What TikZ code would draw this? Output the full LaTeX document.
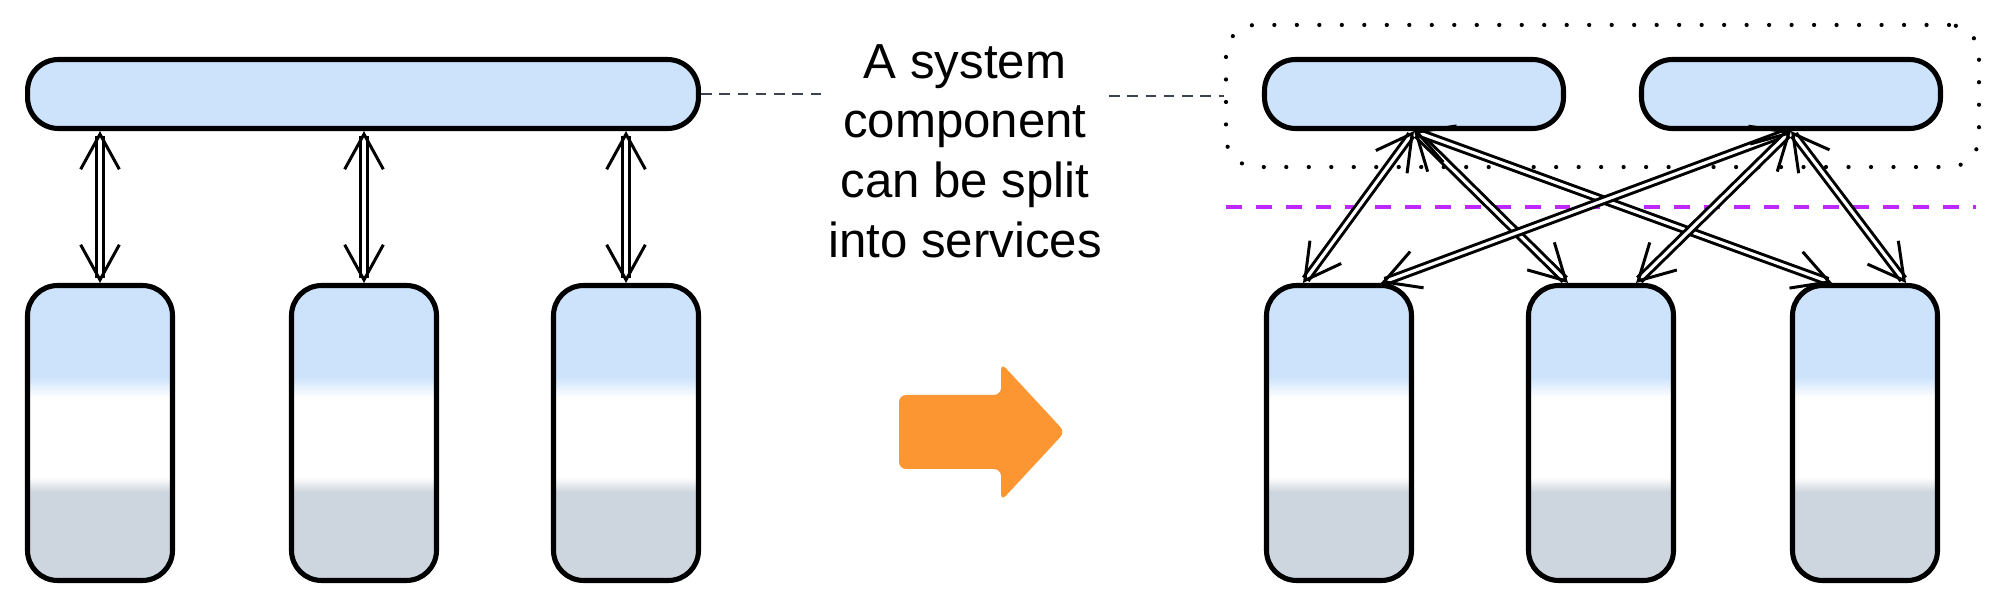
\documentclass[tikz,border=0pt]{standalone}
\usepackage{fontspec}
\setmainfont{Liberation Sans}
\usetikzlibrary{positioning,arrows.meta,fit}
\definecolor{tierblue}{RGB}{205,227,252}
\definecolor{tiergray}{RGB}{205,213,222}
\definecolor{notegray}{RGB}{60,68,80}
\definecolor{splitorange}{RGB}{251,150,50}
\definecolor{splitpurple}{RGB}{190,40,255}
\pgfdeclareverticalshading{tiershade}{100bp}{color(0bp)=(tiergray); color(40bp)=(tiergray); color(42.5bp)=(white); color(56bp)=(white); color(59.5bp)=(tierblue); color(100bp)=(tierblue)}

\begin{document}
\begin{tikzpicture}[x=0.02cm,y=-0.02cm,
    comp/.style={draw,line width=2.9pt,fill=tierblue,rounded corners=0.62cm,minimum height=1.38cm,inner sep=0pt},
    tier/.style={draw,line width=2.9pt,shading=tiershade,rounded corners=0.6cm,minimum width=2.9cm,minimum height=5.9cm,inner sep=0pt},
    link/.style={double,double distance=1.8pt,line width=1.7pt,{Straight Barb[length=20pt,width=22pt]}-{Straight Barb[length=20pt,width=22pt]}},
    note/.style={notegray,line width=1.1pt,dash pattern=on 6pt off 4.4pt}]
    \useasboundingbox (0,0) rectangle (1999,604);
    % before: one component
    \node[comp,minimum width=13.42cm] (bar) at (363,94) {};
    \node[tier] (b1) at (100,433) {};
    \node[tier] (b2) at (364,433) {};
    \node[tier] (b3) at (626,433) {};
    \draw[link] (b1.north |- bar.south) -- (b1.north);
    \draw[link] (b2.north |- bar.south) -- (b2.north);
    \draw[link] (b3.north |- bar.south) -- (b3.north);
    % caption
    \node[font=\fontsize{28}{34}\selectfont,align=center,inner sep=4pt] (cap) at (965,151) {A system\\component\\can be split\\into services};
    \fill[splitorange,rounded corners=4pt] (899,395) -- (1001,395) -- (1001,363) -- (1065,432) -- (1001,501) -- (1001,469) -- (899,469) -- cycle;
    % after: split into services
    \node[comp,minimum width=5.98cm] (t1) at (1414,94) {};
    \node[comp,minimum width=5.98cm] (t2) at (1791,94) {};
    \node[tier] (b4) at (1339,433) {};
    \node[tier] (b5) at (1601,433) {};
    \node[tier] (b6) at (1865,433) {};
    \node[fit=(t1)(t2),inner xsep=0.72cm,inner ysep=0.68cm,yshift=-0.04cm,rounded corners=0.6cm,draw,line width=2.4pt,dash pattern=on 0pt off 12.8pt,line cap=round] (svc) {};
    \coordinate (sepl) at (1226,207);
    \coordinate (sepr) at (1976,207);
    \draw[splitpurple,line width=2pt,dash pattern=on 9pt off 8pt] (sepl) -- (sepr);
    \draw[link] (t1.south) -- ([xshift=-0.72cm]b4.north);
    \draw[link] (t1.south) -- ([xshift=-0.66cm]b5.north);
    \draw[link] (t1.south) -- ([xshift=-0.66cm]b6.north);
    \draw[link] (t2.south) -- ([xshift=0.84cm]b4.north);
    \draw[link] (t2.south) -- ([xshift=0.7cm]b5.north);
    \draw[link] (t2.south) -- ([xshift=0.82cm]b6.north);
    \draw[note] (bar.east) -- (bar.east -| cap.west);
    \draw[note] (cap.east |- svc.west) -- (svc.west);
\end{tikzpicture}
\end{document}
